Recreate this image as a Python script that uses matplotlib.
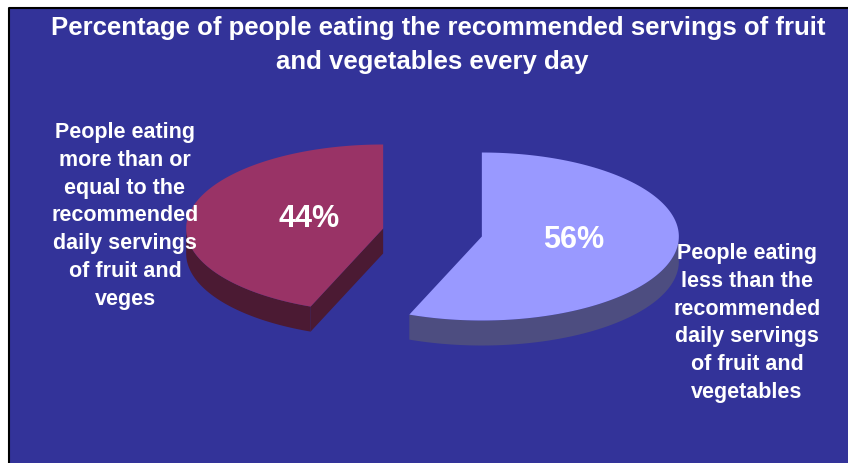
"""
Fruit & vege servings - exploded 3D style pie
"""

import numpy as np
import matplotlib.pyplot as plt
from matplotlib.patches import Polygon, Rectangle

plt.rcParams['font.family'] = ['Liberation Sans', 'DejaVu Sans']

# data ----------
values = [44, 56]
pct_labels = ['44%', '56%']
cat_labels = ['People eating\nmore than or\nequal to the\nrecommended\ndaily servings\nof fruit and\nveges',
              'People eating\nless than the\nrecommended\ndaily servings\nof fruit and\nvegetables']
top_colors = ['#993366', '#9999FF']
side_colors = ['#4B1A33', '#4D4D80']
title_lines = ['Percentage of people eating the recommended servings of fruit',
               'and vegetables every day']

# layout (pixel space, y up) ----------
W, H = 848, 464
bg = '#333399'
cx, cy = 432.5, 230.5      # pie centre before explode
rx, ry = 197, 84           # ellipse radii
depth = 25
explode = 0.255
start = 90                 # first slice starts at 12 o'clock, counter clockwise

fig = plt.figure(figsize=(W / 100, H / 100), dpi=100)
ax = fig.add_axes([0, 0, 1, 1])
ax.set_xlim(0, W)
ax.set_ylim(0, H)
ax.axis('off')

ax.add_patch(Rectangle((9, 0), W - 9, H - 9, facecolor=bg, edgecolor='none', zorder=0))
ax.plot([9, 9, W], [0, H - 9, H - 9], color='black', lw=1.5, zorder=1)


def rim(a, ox, oy, dz=0):
    a = np.radians(a)
    return np.column_stack([ox + rx * np.cos(a), oy + ry * np.sin(a) - dz])


total = sum(values)
a0 = start
for i, v in enumerate(values):
    a1 = a0 + 360 * v / total
    mid = np.radians((a0 + a1) / 2)
    ox = cx + explode * rx * np.cos(mid)
    oy = cy + explode * ry * np.sin(mid)

    # cut faces facing the viewer
    for a, sgn in ((a0, -1), (a1, 1)):
        if np.sin(np.radians(a + sgn * 90)) < -1e-6:
            p = rim(a, ox, oy)[0]
            quad = [(ox, oy), tuple(p), (p[0], p[1] - depth), (ox, oy - depth)]
            ax.add_patch(Polygon(quad, closed=True, facecolor=side_colors[i], edgecolor='none', zorder=2))

    # outer wall, front half only
    lo, hi = a0 % 360, a0 % 360 + (a1 - a0)
    for s, e in ((180, 360), (540, 720)):
        w0, w1 = max(lo, s), min(hi, e)
        if w1 > w0:
            t = np.linspace(w0, w1, 120)
            top = rim(t, ox, oy)
            bot = rim(t[::-1], ox, oy, depth)
            ax.add_patch(Polygon(np.vstack([top, bot]), closed=True,
                                 facecolor=side_colors[i], edgecolor='none', zorder=2))

    # top face
    t = np.linspace(a0, a1, 200)
    face = np.vstack([[ox, oy], rim(t, ox, oy)])
    ax.add_patch(Polygon(face, closed=True, facecolor=top_colors[i], edgecolor='none', zorder=3))

    lx = ox + 0.43 * rx * np.cos(mid) + 9
    ly = oy + 0.43 * ry * np.sin(mid) + 4
    ax.text(lx, ly, pct_labels[i], color='white', fontsize=22, fontweight='bold',
            ha='center', va='center', zorder=5)
    a0 = a1

# category labels
ax.text(125, 248, cat_labels[0], color='white', fontsize=15.5, fontweight='bold',
        ha='center', va='center', linespacing=1.43, zorder=5)
ax.text(747, 141, cat_labels[1], color='white', fontsize=15.5, fontweight='bold',
        ha='center', va='center', linespacing=1.43, zorder=5)

# title
ax.text(438, 436, title_lines[0], color='white', fontsize=18.5, fontweight='bold',
        ha='center', va='center', zorder=5)
ax.text(432, 402, title_lines[1], color='white', fontsize=18.5, fontweight='bold',
        ha='center', va='center', zorder=5)

fig.savefig('out.png', dpi=100, facecolor='white')
